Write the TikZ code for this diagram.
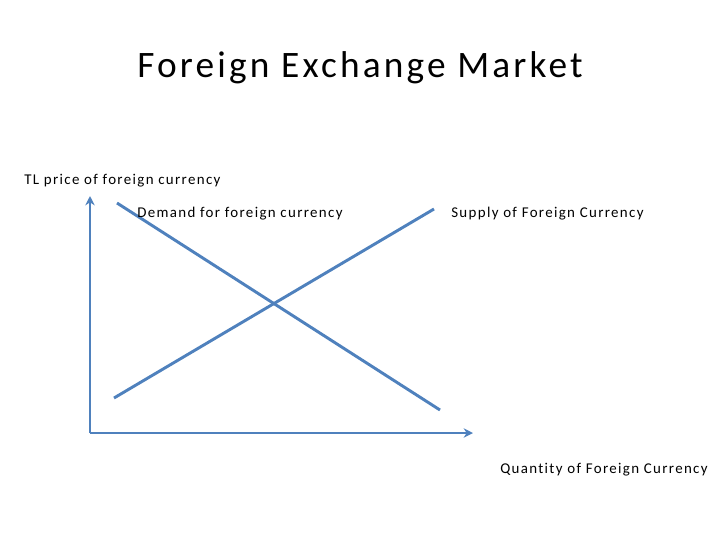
\documentclass[tikz,border=0pt]{standalone}
\usepackage{fontspec}
\setmainfont{Carlito}
\newfontfamily\titlefont[LetterSpace=8.5,Ligatures=NoCommon]{Carlito}
\newfontfamily\labelfont[LetterSpace=9,Ligatures=NoCommon]{Carlito}
\usetikzlibrary{arrows.meta}
\definecolor{axisblue}{HTML}{4F81BD}
\begin{document}
\begin{tikzpicture}[x=0.75pt,y=-0.75pt,
  axis/.style={draw=axisblue,line width=2.2pt,-{Stealth[length=7pt,width=7pt]}},
  curve/.style={draw=axisblue,line width=2.2pt},
  lbl/.style={anchor=base west,inner sep=0pt,font=\labelfont\fontsize{11.2pt}{13pt}\selectfont}]
\useasboundingbox (0,0) rectangle (720,540);
\node[anchor=base,inner sep=0pt,font=\titlefont\fontsize{28pt}{34pt}\selectfont] (title) at (360,77) {Foreign Exchange Market};
\coordinate (o) at (90,433);
\coordinate (ytop) at (90,196);
\coordinate (xend) at (473,433);
\coordinate (d1) at (117,203);
\coordinate (d2) at (440,410);
\coordinate (s1) at (114,398);
\coordinate (s2) at (434,209);
\draw[axis] (o) -- (ytop);
\draw[axis] (o) -- (xend);
\draw[curve] (d1) -- (d2);
\draw[curve] (s1) -- (s2);
\node[lbl] (ylab) at (24,184) {TL price of foreign currency};
\node[lbl] (dlab) at (137,217) {Demand for foreign currency};
\node[lbl] (slab) at (451,217) {Supply of Foreign Currency};
\node[lbl] (xlab) at (500,473) {Quantity of Foreign Currency};
\end{tikzpicture}
\end{document}
